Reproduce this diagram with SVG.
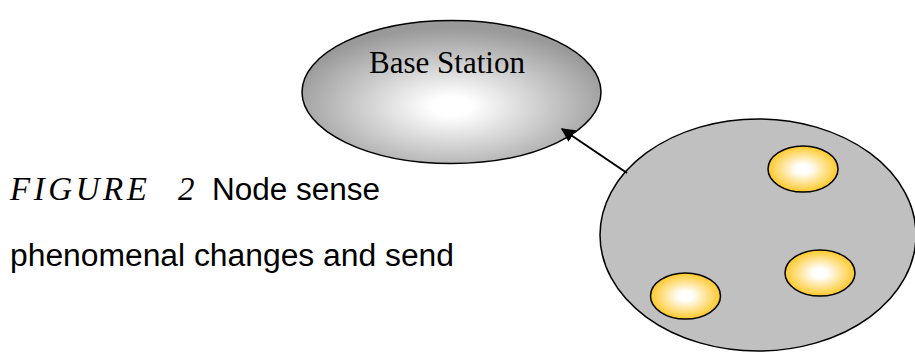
<svg xmlns="http://www.w3.org/2000/svg" width="915" height="352" viewBox="0 0 915 352">
<style>
.edge{stroke:#000;stroke-width:1.5}
.sans{font-family:"Liberation Sans",Arial,sans-serif;fill:#000}
.serif{font-family:"Liberation Serif","Times New Roman",serif;fill:#000}
.sensor{fill:url(#gold);stroke:#000;stroke-width:1.5}
</style>
<defs>
<radialGradient id="gray" cx="0.5" cy="0.6" r="0.55">
<stop offset="0.12" stop-color="#ffffff"/>
<stop offset="1" stop-color="#999999"/>
</radialGradient>
<radialGradient id="gold" cx="0.5" cy="0.5" r="0.5">
<stop offset="0.2" stop-color="#ffffff"/>
<stop offset="1" stop-color="#ffc82a"/>
</radialGradient>
<marker id="arr" viewBox="0 0 10 10" refX="9" refY="5" markerWidth="7" markerHeight="7" orient="auto" markerUnits="strokeWidth">
<path d="M0,0 L10,5 L0,10 z" fill="#000"/>
</marker>
</defs>
<g id="base-station">
<ellipse cx="451.5" cy="92" rx="149.5" ry="71.5" fill="url(#gray)" class="edge"/>
<text x="447" y="73" class="serif" font-size="31" text-anchor="middle">Base Station</text>
</g>
<g id="cluster">
<ellipse cx="758" cy="235" rx="158" ry="116" fill="#c0c0c0" class="edge"/>
</g>
<g id="sensor1"><ellipse cx="803" cy="169" rx="35" ry="23" class="sensor"/></g>
<g id="sensor2"><ellipse cx="820" cy="273" rx="35" ry="23" class="sensor"/></g>
<g id="sensor3"><ellipse cx="685.5" cy="296" rx="35" ry="23" class="sensor"/></g>
<g id="connectors">
<line x1="627" y1="173" x2="562" y2="129" stroke="#000" stroke-width="2" marker-end="url(#arr)"/>
</g>
<g id="caption">
<text x="10" y="200" class="serif" font-size="33" font-style="italic" fill="#222" textLength="137" lengthAdjust="spacing">FIGURE</text>
<text x="178" y="200" class="serif" font-size="33" font-style="italic" fill="#222">2</text>
<text x="212" y="200" class="sans" font-size="31" textLength="168" lengthAdjust="spacingAndGlyphs">Node sense</text>
<text x="10" y="266" class="sans" font-size="31" textLength="444" lengthAdjust="spacingAndGlyphs">phenomenal changes and send</text>
</g>
</svg>
